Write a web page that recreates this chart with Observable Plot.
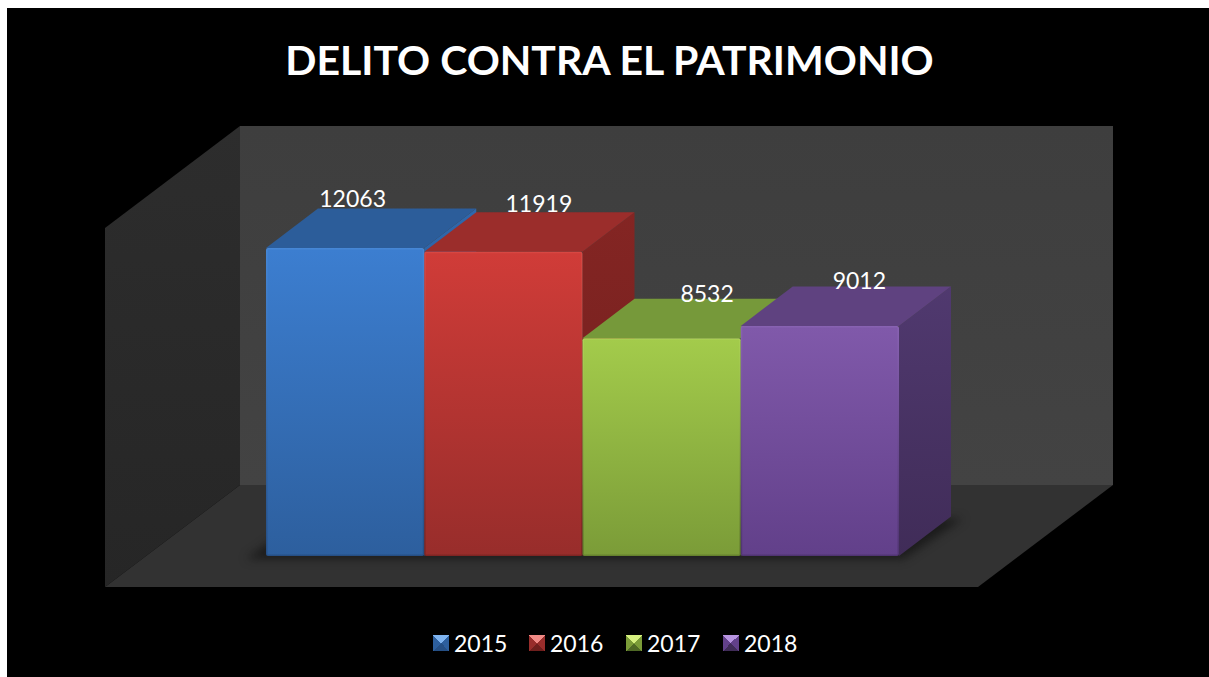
<!DOCTYPE html>
<html>
<head>
<meta charset="utf-8">
<script src="https://cdn.jsdelivr.net/npm/d3@7"></script>
<script src="https://cdn.jsdelivr.net/npm/@observablehq/plot@0.6"></script>
<style>
html,body{margin:0;padding:0;background:#fff;overflow:hidden}
#frame{position:absolute;left:7px;top:8px;width:1202px;height:669px;background:#000;font-family:Lato,sans-serif;color:#fff}
#title{height:102px;line-height:104px;text-align:center;font-weight:700;font-size:41px;padding-left:3px;box-sizing:border-box;white-space:nowrap}
#chart{height:500px}
#chart svg{display:block}
#legend{position:relative;height:67px}
.item{position:absolute;top:17px;display:flex;align-items:center;font-size:23px;line-height:32px}
.sw{width:16px;height:16px;margin-right:5px;box-sizing:border-box}
</style>
</head>
<body>
<div id="frame">
  <div id="title"></div>
  <div id="chart"></div>
  <div id="legend"></div>
</div>
<script>
// Data
const chartTitle = "DELITO CONTRA EL PATRIMONIO";
const years = ["2015", "2016", "2017", "2018"];
const values = [12063, 11919, 8532, 9012];

// Styles
const frontTop = ["#3c7ed0", "#d03c38", "#a3cb4b", "#8059aa"];
const frontBottom = ["#2d5f9e", "#982d2b", "#7b9c38", "#62408a"];
const bevel = ["#4687d6", "#d84742", "#acd256", "#8862b2"];
const edgeBottom = ["#264f85", "#7f2523", "#66822e", "#503472"];
const topFace = ["#2c5d9a", "#9b2d2b", "#76993a", "#5f4280"];
const sideTop = ["#2f68ad", "#842523", "#5f7d2d", "#50396f"];
const sideBottom = ["#254f85", "#6f1f1d", "#4f6925", "#402c58"];
const swatchLight = ["#7fb4f0", "#f08a86", "#d6f07f", "#b794e0"];
const labelDx = [7, 35, 45, 39];
const labelDy = [-9, -8, -5, -5];
const swatchLeft = [426, 522, 619, 716];

// Projection of the box: units along x are one bar wide, depth is expressed in x and y units
const W = 1202, H = 500;
const pxPerBar = 158.25, pxPerValue = 308 / 12063;
const originX = 259, originY = 446;
const u = px => px / pxPerBar, v = px => px / pxPerValue;
const barDepthX = u(52), barDepthY = v(39.5);
const boxDepthX = u(135), boxDepthY = v(102);
const boxL = u(-161), boxR = u(712), boxFloor = v(-31), boxTop = v(359);

const xDomain = [u(-originX), u(W - originX)];
const yDomain = [v(originY - H), v(originY)];

const bars = years.map((year, i) => ({year, i, value: values[i]}));
const defsMark = () => {
  const ns = "http://www.w3.org/2000/svg";
  const defs = document.createElementNS(ns, "defs");
  const grad = (id, a, b) =>
    `<linearGradient id="${id}" x1="0" y1="0" x2="0" y2="1"><stop offset="0" stop-color="${a}"/><stop offset="1" stop-color="${b}"/></linearGradient>`;
  defs.innerHTML = years.map((_, i) =>
    grad("front" + i, frontTop[i], frontBottom[i]) +
    grad("side" + i, sideTop[i], sideBottom[i]) +
    grad("edge" + i, bevel[i], edgeBottom[i])
  ).join("") + grad("wallBack", "#3e3e3e", "#434343") + grad("wallLeft", "#2d2d2d", "#262626");
  return defs;
};

const boxMarks = [
  Plot.areaY([
    {x: boxL, y1: boxFloor, y2: boxFloor + boxTop},
    {x: boxL + boxDepthX, y1: boxFloor + boxDepthY, y2: boxFloor + boxDepthY + boxTop}
  ], {x: "x", y1: "y1", y2: "y2", fill: "url(#wallLeft)"}),
  Plot.rect([{}], {
    x1: () => boxL + boxDepthX, x2: () => boxR + boxDepthX,
    y1: () => boxFloor + boxDepthY, y2: () => boxFloor + boxDepthY + boxTop,
    fill: "url(#wallBack)"
  }),
  Plot.areaX([
    {y: boxFloor, x1: boxL, x2: boxR},
    {y: boxFloor + boxDepthY, x1: boxL + boxDepthX, x2: boxR + boxDepthX}
  ], {y: "y", x1: "x1", x2: "x2", fill: "#323232"})
];

const shadow = Plot.areaX([
  {y: -v(3), x1: -u(20), x2: 4 + u(4)},
  {y: barDepthY - v(2), x1: barDepthX - u(14), x2: 4 + barDepthX + u(12)}
], {y: "y", x1: "x1", x2: "x2", fill: "#0c0c0c", fillOpacity: 0.6, imageFilter: "blur(5px)"});

const barMarks = bars.flatMap(({i, value}) => [
  Plot.areaY([
    {x: i + 1, y1: 0, y2: value},
    {x: i + 1 + barDepthX, y1: barDepthY, y2: value + barDepthY}
  ], {x: "x", y1: "y1", y2: "y2", fill: `url(#side${i})`}),
  Plot.areaX([
    {y: value, x1: i, x2: i + 1},
    {y: value + barDepthY, x1: i + barDepthX, x2: i + 1 + barDepthX}
  ], {y: "y", x1: "x1", x2: "x2", fill: topFace[i]}),
  Plot.rect([{}], {x1: () => i, x2: () => i + 1, y1: () => 0, y2: () => value, fill: `url(#edge${i})`, rx: 2}),
  Plot.rect([{}], {x1: () => i, x2: () => i + 1, y1: () => 0, y2: () => value, fill: `url(#front${i})`, inset: 1.5})
]);

const labelMarks = bars.map(({i, value}) =>
  Plot.text([value], {
    x: () => i + 0.5,
    y: d => d + barDepthY,
    text: d => String(d),
    dx: labelDx[i],
    dy: labelDy[i],
    fill: "#fff",
    fontSize: 23,
    fontFamily: "Lato, sans-serif"
  })
);

document.getElementById("title").textContent = chartTitle;

const chart = Plot.plot({
  width: W,
  height: H,
  margin: 0,
  style: {background: "transparent", overflow: "visible"},
  x: {domain: xDomain, range: [0, W], axis: null},
  y: {domain: yDomain, range: [H, 0], axis: null},
  marks: [defsMark, ...boxMarks, shadow, ...barMarks, ...labelMarks]
});
document.getElementById("chart").appendChild(chart);

const legend = document.getElementById("legend");
years.forEach((year, i) => {
  const item = document.createElement("div");
  item.className = "item";
  item.style.left = swatchLeft[i] + "px";
  const sw = document.createElement("div");
  sw.className = "sw";
  sw.style.background = `conic-gradient(from -45deg, ${swatchLight[i]} 0 90deg, ${frontBottom[i]} 90deg 180deg, ${sideBottom[i]} 180deg 270deg, ${frontBottom[i]} 270deg 360deg)`;
  const label = document.createElement("span");
  label.textContent = year;
  item.append(sw, label);
  legend.appendChild(item);
});
</script>
</body>
</html>
